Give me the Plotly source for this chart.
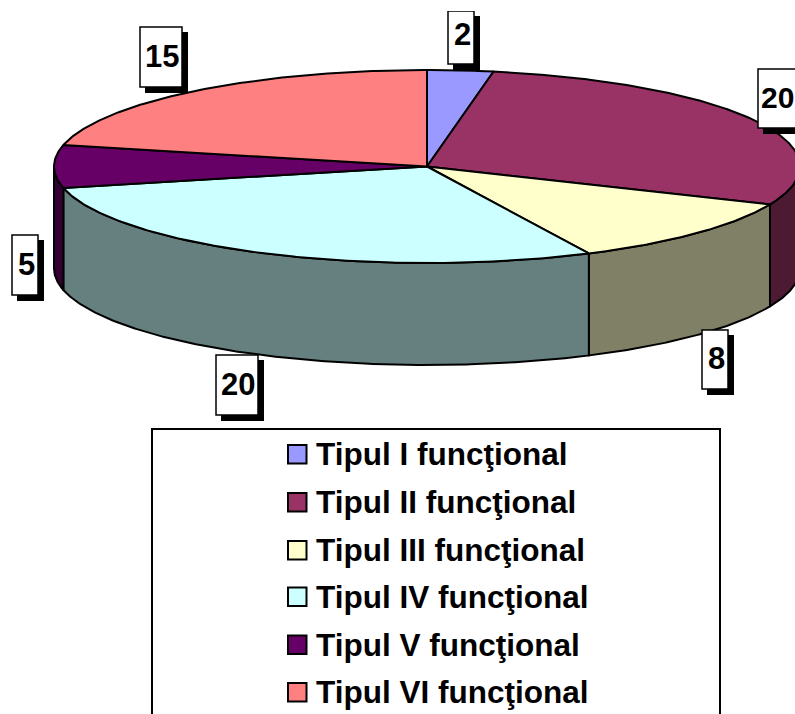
import numpy as np
import plotly.graph_objects as go

categories = ["Tipul I funcţional", "Tipul II funcţional", "Tipul III funcţional",
              "Tipul IV funcţional", "Tipul V funcţional", "Tipul VI funcţional"]
values = [2, 20, 8, 20, 5, 15]
top_colors = ["#9999FF", "#993366", "#FFFFCC", "#CCFFFF", "#660066", "#FF8080"]
side_colors = ["#4D4D80", "#4D1A33", "#808066", "#668080", "#330033", "#804040"]

CX, CY, RX, RY, DEPTH = 427, 166.5, 373, 96.5, 102
W, H = 795, 714
FONT = "Liberation Sans, Arial, sans-serif"


def ex(t):
    return CX + RX * np.sin(np.radians(t))


def ey(t):
    return CY - RY * np.cos(np.radians(t))


fig = go.Figure()
edges = np.cumsum([0] + values) / sum(values) * 360

# side walls (front half of the pie only)
for i in range(len(values)):
    a, b = max(edges[i], 90), min(edges[i + 1], 270)
    if b <= a:
        continue
    t = np.linspace(a, b, int(b - a) * 2 + 2)
    xs = np.r_[ex(t), ex(t[::-1]), ex(t[0])]
    ys = np.r_[ey(t), ey(t[::-1]) + DEPTH, ey(t[0])]
    fig.add_trace(go.Scatter(x=xs, y=ys, mode="lines", fill="toself", fillcolor=side_colors[i],
                             line=dict(color="black", width=2), hoverinfo="skip", showlegend=False))

# top faces
for i in range(len(values)):
    t = np.linspace(edges[i], edges[i + 1], int(edges[i + 1] - edges[i]) * 2 + 2)
    xs = np.r_[CX, ex(t), CX]
    ys = np.r_[CY, ey(t), CY]
    fig.add_trace(go.Scatter(x=xs, y=ys, mode="lines", fill="toself", fillcolor=top_colors[i],
                             line=dict(color="black", width=2), name=categories[i],
                             hoverinfo="skip", showlegend=False))

shapes = []
annotations = []

# data labels: box, drop shadow, number
label_boxes = [(448, 11, 474, 64), (758, 69, 800, 128), (702, 330, 728, 389),
               (216, 355, 258, 415), (12, 235, 38, 295), (140, 27, 182, 87)]
for v, (x0, y0, x1, y1) in zip(values, label_boxes):
    shapes.append(dict(type="rect", x0=x0 + 5, x1=x1 + 6, y0=y0 + 5, y1=y1 + 6,
                       fillcolor="black", line=dict(width=0), layer="above"))
    shapes.append(dict(type="rect", x0=x0, x1=x1, y0=y0, y1=y1, fillcolor="white",
                       line=dict(color="black", width=1.5), layer="above"))
    near_edge = x1 > 790
    annotations.append(dict(x=(x0 + x1) / 2 + 1 if not near_edge else 777.5,
                            y=(y0 + y1) / 2 + (-3 if v == 2 else -1),
                            text=str(v), showarrow=False, xanchor="center", yanchor="middle",
                            font=dict(family=FONT, size=30 if near_edge else 31, color="black", weight=700),
                            xref="x", yref="y"))

# the top of the image crops the first label
shapes.append(dict(type="rect", x0=440, x1=490, y0=0, y1=11, fillcolor="white",
                   line=dict(width=0), layer="above"))

# legend box
shapes.append(dict(type="rect", x0=152, x1=720, y0=429, y1=730, fillcolor="white",
                   line=dict(color="black", width=2), layer="above"))
legend_y = [454, 502, 550, 596.5, 644.5, 692]
for name, col, y in zip(categories, top_colors, legend_y):
    shapes.append(dict(type="rect", x0=288, x1=306.5, y0=y - 9, y1=y + 9.5, fillcolor=col,
                       line=dict(color="black", width=2), layer="above"))
    annotations.append(dict(x=314, y=y, text=name, showarrow=False, xanchor="left", yanchor="middle",
                            font=dict(family=FONT, size=31.5, color="black", weight=700), xref="x", yref="y"))

fig.update_layout(
    width=W, height=H, margin=dict(l=0, r=0, t=0, b=0),
    paper_bgcolor="white", plot_bgcolor="white", showlegend=False,
    xaxis=dict(range=[0, W], visible=False, fixedrange=True),
    yaxis=dict(range=[H, 0], visible=False, fixedrange=True),
    shapes=shapes, annotations=annotations,
)
fig.write_html("out.html", config=dict(displayModeBar=False),
               post_script="document.body.style.margin='0';document.body.style.overflow='hidden';")
